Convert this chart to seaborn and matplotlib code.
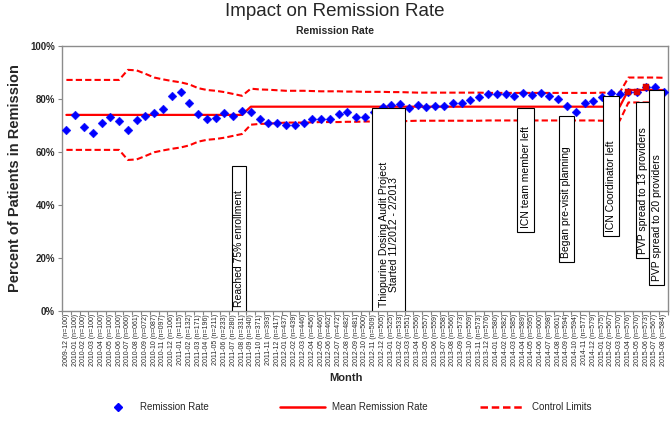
import matplotlib
matplotlib.use("Agg")
import matplotlib.pyplot as plt
import seaborn as sns
import pandas as pd
from matplotlib.lines import Line2D
from matplotlib.patches import Rectangle
from matplotlib.ticker import FixedLocator, FuncFormatter

months = ['2009-12',
          '2010-01', '2010-02', '2010-03', '2010-04', '2010-05', '2010-06',
          '2010-07', '2010-08', '2010-09', '2010-10', '2010-11', '2010-12',
          '2011-01', '2011-02', '2011-03', '2011-04', '2011-05', '2011-06',
          '2011-07', '2011-08', '2011-09', '2011-10', '2011-11', '2011-12',
          '2012-01', '2012-02', '2012-03', '2012-04', '2012-05', '2012-06',
          '2012-07', '2012-08', '2012-09', '2012-10', '2012-11', '2012-12',
          '2013-01', '2013-02', '2013-03', '2013-04', '2013-05', '2013-06',
          '2013-07', '2013-08', '2013-09', '2013-10', '2013-11', '2013-12',
          '2014-01', '2014-02', '2014-03', '2014-04', '2014-05', '2014-06',
          '2014-07', '2014-08', '2014-09', '2014-10', '2014-11', '2014-12',
          '2015-01', '2015-02', '2015-03', '2015-04', '2015-05', '2015-06',
          '2015-07', '2015-08']
patients = [100,
            100, 100, 100, 100, 100, 100, 60, 61, 72, 87, 97, 106,
            115, 132, 171, 196, 211, 233, 280, 331, 340, 371, 393, 417,
            437, 439, 446, 456, 466, 462, 472, 482, 481, 500, 509, 505,
            525, 533, 551, 556, 557, 559, 558, 566, 573, 559, 573, 576,
            580, 582, 585, 589, 595, 600, 598, 601, 594, 594, 577, 579,
            575, 567, 570, 576, 570, 573, 567, 584]
remission = [68.3,
             74.0, 69.6, 67.3, 71.1, 73.3, 71.8, 68.3, 72.1, 73.6, 74.8, 76.4, 81.1,
             82.6, 78.4, 74.3, 72.5, 72.9, 74.8, 73.6, 75.5, 75.1, 72.6, 70.8, 70.8,
             70.2, 70.2, 70.8, 72.3, 72.3, 72.6, 74.3, 75.2, 73.3, 73.3, 75.2, 77.1,
             77.9, 78.0, 76.6, 77.9, 76.9, 77.5, 77.5, 78.6, 78.6, 79.6, 80.6, 81.9,
             81.9, 81.8, 81.1, 82.1, 81.5, 82.4, 81.2, 79.9, 77.5, 75.0, 78.6, 79.2,
             80.9, 82.4, 81.9, 82.8, 82.8, 84.6, 84.6, 82.8]
mean_rate = [74.0] * 21 + [77.1] * 43 + [83.4] * 5
upper_limit = [87.2,
               87.2, 87.2, 87.2, 87.2, 87.2, 87.2, 91.0, 90.8, 89.5, 88.1, 87.4, 86.8,
               86.3, 85.5, 84.1, 83.4, 83.1, 82.6, 81.9, 81.2, 83.9, 83.6, 83.5, 83.3,
               83.1, 83.1, 83.1, 83.0, 82.9, 82.9, 82.9, 82.8, 82.8, 82.7, 82.7, 82.7,
               82.6, 82.6, 82.5, 82.4, 82.4, 82.4, 82.4, 82.4, 82.4, 82.4, 82.4, 82.3,
               82.3, 82.3, 82.3, 82.3, 82.3, 82.3, 82.3, 82.3, 82.3, 82.3, 82.3, 82.3,
               82.4, 82.4, 82.4, 88.1, 88.1, 88.1, 88.1, 88.0]
lower_limit = [60.8,
               60.8, 60.8, 60.8, 60.8, 60.8, 60.8, 57.0, 57.2, 58.5, 59.9, 60.6, 61.2,
               61.7, 62.5, 63.9, 64.6, 64.9, 65.4, 66.1, 66.8, 70.3, 70.6, 70.7, 70.9,
               71.1, 71.1, 71.1, 71.2, 71.3, 71.3, 71.3, 71.4, 71.4, 71.5, 71.5, 71.5,
               71.6, 71.6, 71.7, 71.8, 71.8, 71.8, 71.8, 71.8, 71.8, 71.8, 71.8, 71.9,
               71.9, 71.9, 71.9, 71.9, 71.9, 71.9, 71.9, 71.9, 71.9, 71.9, 71.9, 71.9,
               71.8, 71.8, 71.8, 78.7, 78.7, 78.7, 78.7, 78.8]
flagged_months = ['2015-04', '2015-05', '2015-06']

tick_labels = [f"{m} (n={n:03d})" for m, n in zip(months, patients)]

df = pd.DataFrame({
    'pos': range(len(months)),
    'month': months,
    'rate': remission,
    'mean': mean_rate,
    'ucl': upper_limit,
    'lcl': lower_limit,
})
flagged = df[df['month'].isin(flagged_months)]

sns.set_style("white")
plt.rcParams['font.family'] = ['Liberation Sans', 'DejaVu Sans']

fig = plt.figure(figsize=(6.7, 4.25), dpi=100)
ax = fig.add_axes([62 / 670, 1 - 311 / 425, 606 / 670, 265 / 425])

red = '#FF0000'
dash = (0, (3, 1.5))
sns.lineplot(data=df, x='pos', y='ucl', color=red, lw=1.5, linestyle=dash, ax=ax, zorder=2)
sns.lineplot(data=df, x='pos', y='lcl', color=red, lw=1.5, linestyle=dash, ax=ax, zorder=2)
sns.lineplot(data=df, x='pos', y='mean', color=red, lw=1.6, ax=ax, zorder=2)
sns.scatterplot(data=df, x='pos', y='rate', marker='D', color='#0000FF',
                s=20, edgecolor='#0000FF', linewidth=0.3, ax=ax, zorder=4)
sns.scatterplot(data=flagged, x='pos', y='rate', marker='s', color='#E00000',
                s=22, edgecolor='#C00000', linewidth=0.3, ax=ax, zorder=5)

# annotation boxes: (centre pos, width, top %, bottom %, text)
notes = [
    (19.7, 1.6, 54.7, 0.0, "Reached 75% enrollment"),
    (36.7, 3.8, 76.6, 0.0, "Thiopurine Dosing Audit Project\nStarted 11/2012 - 2/2013"),
    (52.3, 1.9, 76.6, 29.8, "ICN team member left"),
    (56.9, 1.7, 73.6, 18.5, "Began pre-visit planning"),
    (62.0, 1.8, 81.1, 28.3, "ICN Coordinator left"),
    (65.6, 1.4, 78.9, 20.0, "PVP spread to 13 providers"),
    (67.2, 1.8, 83.4, 9.8, "PVP spread to 20 providers"),
]
for cx, w, top, bottom, text in notes:
    ax.add_patch(Rectangle((cx - w / 2, bottom), w, top - bottom, facecolor='white',
                           edgecolor='black', lw=0.8, zorder=6))
    ax.text(cx, bottom + 1.5, text, rotation=90, ha='center', va='bottom',
            fontsize=7.5, color='black', zorder=7, linespacing=1.0)

ax.set_xlim(-0.5, len(months) - 0.5)
ax.set_ylim(0, 100)
ax.set_xticks(range(len(months)))
ax.set_xticklabels(tick_labels, rotation=90, fontsize=5.0)
ax.xaxis.set_minor_locator(FixedLocator([i - 0.5 for i in range(len(months) + 1)]))
ax.tick_params(axis='x', which='major', length=0, pad=2)
ax.tick_params(axis='x', which='minor', length=3, color='#868686', width=0.8, bottom=True)
ax.set_yticks(range(0, 101, 20))
ax.yaxis.set_major_formatter(FuncFormatter(lambda v, p: f"{v:.0f}%"))
ax.tick_params(axis='y', length=3, color='#868686', labelsize=7, left=True, pad=2)
for lab in ax.get_yticklabels():
    lab.set_fontweight('bold')

for side in ['left', 'right', 'top', 'bottom']:
    ax.spines[side].set_visible(True)
    ax.spines[side].set_color('#8c8c8c')
    ax.spines[side].set_linewidth(1.0)

ax.set_xlabel("Month", fontsize=8, fontweight='bold')
ax.xaxis.set_label_coords((346 - 62) / 606, -(373 - 311) / 265)
ax.set_ylabel("Percent of Patients in Remission", fontsize=10.5, fontweight='bold')
ax.yaxis.set_label_coords(-(62 - 22) / 606, 0.5)

fig.text(0.5, 1 - 11 / 425, "Impact on Remission Rate", ha='center', va='center', fontsize=13.5)
fig.text(0.5, 1 - 31 / 425, "Remission Rate", ha='center', va='center',
         fontsize=7.5, fontweight='bold')

legend_y = 1 - 407 / 425
entries = [
    (Line2D([], [], marker='D', color='#0000FF', linestyle='none', markersize=4.5),
     "Remission Rate", 103, 3.0),
    (Line2D([], [], color=red, lw=1.8), "Mean Remission Rate", 280, 4.6),
    (Line2D([], [], color=red, lw=1.8, linestyle=dash), "Control Limits", 480, 4.6),
]
for handle, label, x0, hl in entries:
    leg = fig.legend([handle], [label], loc='center left', bbox_to_anchor=(x0 / 670, legend_y),
                     frameon=False, fontsize=7, handlelength=hl, handletextpad=0.8,
                     borderpad=0, borderaxespad=0)

fig.savefig("out.png", dpi=100)
